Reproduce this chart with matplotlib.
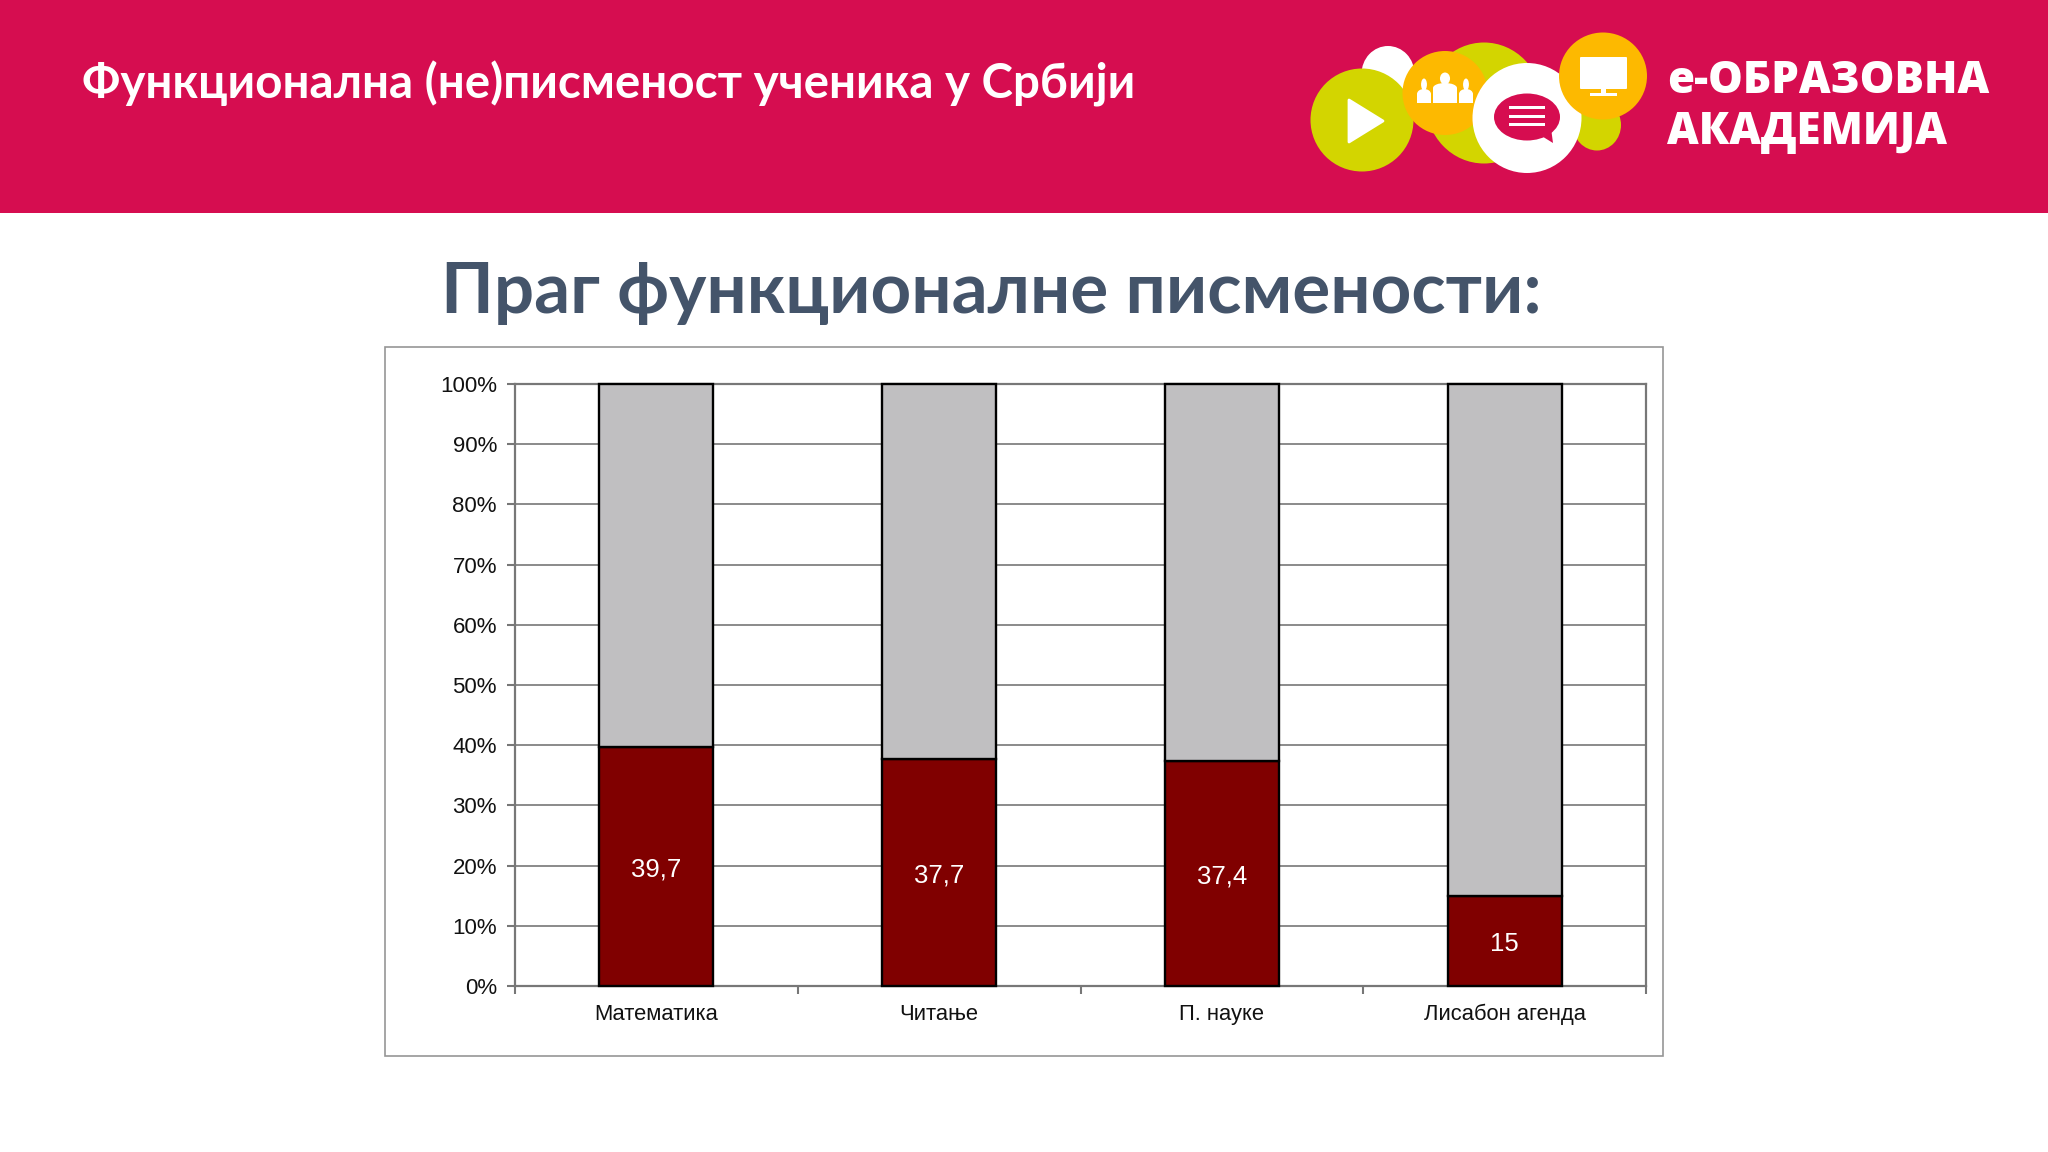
import matplotlib
matplotlib.use("Agg")
import matplotlib.pyplot as plt
from matplotlib.patches import Ellipse, Rectangle, Polygon, FancyBboxPatch
from matplotlib.ticker import FixedLocator, NullFormatter, FixedFormatter

categories = ["Математика", "Читање", "П. науке", "Лисабон агенда"]
below_values = [39.7, 37.7, 37.4, 15]
above_values = [60.3, 62.3, 62.6, 85]
value_labels = ["39,7", "37,7", "37,4", "15"]
y_ticks = [0, 10, 20, 30, 40, 50, 60, 70, 80, 90, 100]
y_tick_labels = [f"{v}%" for v in y_ticks]

W, H = 2048, 1152
fig = plt.figure(figsize=(W / 100, H / 100), dpi=100, facecolor="white")

# page overlay in pixel coordinates
pg = fig.add_axes([0, 0, 1, 1], zorder=0)
pg.set_xlim(0, W)
pg.set_ylim(H, 0)
pg.axis("off")
CRIMSON = "#D60D50"
GREEN = "#D3D500"
ORANGE = "#FDB900"
pg.add_patch(Rectangle((0, 0), W, 213, fc=CRIMSON, ec="none"))
pg.add_patch(Rectangle((385, 346.5), 1278, 709, fc="white", ec="#969696", lw=1.2))

for cx, cy, w, h, c in [
    (1388, 74, 53, 56, "white"),
    (1484, 103, 116, 121, GREEN),
    (1597, 125, 48, 51, GREEN),
    (1362, 120, 103, 103, GREEN),
    (1445, 93, 85, 84, ORANGE),
    (1527, 118, 109, 110, "white"),
    (1603, 76, 88, 87, ORANGE),
    (1527, 117, 66, 47, CRIMSON),
]:
    pg.add_patch(Ellipse((cx, cy), w, h, fc=c, ec="none"))

# play icon
pg.add_patch(Polygon([(1349, 100), (1383, 121), (1349, 142)], fc="white", ec="white", lw=2, joinstyle="round"))
# people icon
for cx, top, w, bottom in [(1424, 79, 14, 103), (1445, 73, 24, 103), (1466, 79, 14, 103)]:
    pg.add_patch(Ellipse((cx, top + 5.5), w * 0.42, 12, fc="white", ec="none"))
    pg.add_patch(Ellipse((cx, top + 15), w, 10, fc="white", ec="none"))
    pg.add_patch(Rectangle((cx - w / 2, top + 15), w, bottom - top - 15, fc="white", ec="none"))
# speech lines and tail
for y in (107, 116, 124.5):
    pg.add_patch(Rectangle((1509, y - 1.5), 36, 3, fc="white", ec="none"))
pg.add_patch(Polygon([(1540, 135), (1553, 143), (1551, 128)], fc=CRIMSON, ec="none"))
# monitor icon
pg.add_patch(FancyBboxPatch((1581, 58), 45, 30, boxstyle="round,pad=1", fc="white", ec="none"))
pg.add_patch(Rectangle((1601, 89), 5, 5, fc="white", ec="none"))
pg.add_patch(Rectangle((1590, 93), 27, 2.5, fc="white", ec="none"))

TITLE_FONT = ["Lato", "Open Sans"]
pg.text(82, 98, "Функционална (не)писменост ученика у Србији", family=TITLE_FONT, weight="bold",
        fontsize=34.2, color="white", va="baseline", ha="left")
pg.text(1667, 93, "е-ОБРАЗОВНА", family="Open Sans", weight="heavy", fontsize=31.5,
        color="white", va="baseline", ha="left")
pg.text(1667, 144, "АКАДЕМИЈА", family="Open Sans", weight="heavy", fontsize=31.5,
        color="white", va="baseline", ha="left")
pg.text(441, 313, "Праг функционалне писмености:", family=TITLE_FONT, weight="bold",
        fontsize=51, color="#44546A", va="baseline", ha="left")

# chart
L, R, T, B = 515, 1646, 384, 986
ax = fig.add_axes([L / W, 1 - B / H, (R - L) / W, (B - T) / H], zorder=1)
ax.patch.set_alpha(0)
x = list(range(len(categories)))
bw = 0.403
ax.bar(x, below_values, width=bw, color="#800000", edgecolor="black", linewidth=1.7, zorder=3, clip_on=False)
ax.bar(x, above_values, width=bw, bottom=below_values, color="#C0BFC1", edgecolor="black",
       linewidth=1.7, zorder=3, clip_on=False)
for xi, v, s in zip(x, below_values, value_labels):
    ax.annotate(s, (xi, v / 2), xytext=(0, -2), textcoords="offset points", ha="center", va="center",
                color="white", family="Liberation Sans", fontsize=18.5, zorder=4)

ax.set_xlim(-0.5, 3.5)
ax.set_ylim(0, 100)
ax.set_yticks(y_ticks)
ax.set_yticklabels(y_tick_labels, family="Liberation Sans", fontsize=16, color="#111111")
ax.xaxis.set_major_locator(FixedLocator([-0.5, 0.5, 1.5, 2.5, 3.5]))
ax.xaxis.set_major_formatter(NullFormatter())
ax.xaxis.set_minor_locator(FixedLocator(x))
ax.xaxis.set_minor_formatter(FixedFormatter(categories))
ax.tick_params(axis="x", which="minor", length=0, pad=24.5, labelsize=15.8)
for lab in ax.get_xticklabels(minor=True):
    lab.set_family("Liberation Sans")
    lab.set_color("#111111")
    lab.set_va("baseline")
ax.tick_params(axis="x", which="major", length=6, width=1.5, color="#777777")
ax.tick_params(axis="y", length=6, width=1.5, color="#777777", pad=7)
ax.grid(axis="y", color="#8A8A8A", linewidth=1.4, zorder=1)
ax.set_axisbelow(True)
for s in ax.spines.values():
    s.set_color("#777777")
    s.set_linewidth(1.6)
    s.set_zorder(2)

fig.savefig("out.png", dpi=100)
